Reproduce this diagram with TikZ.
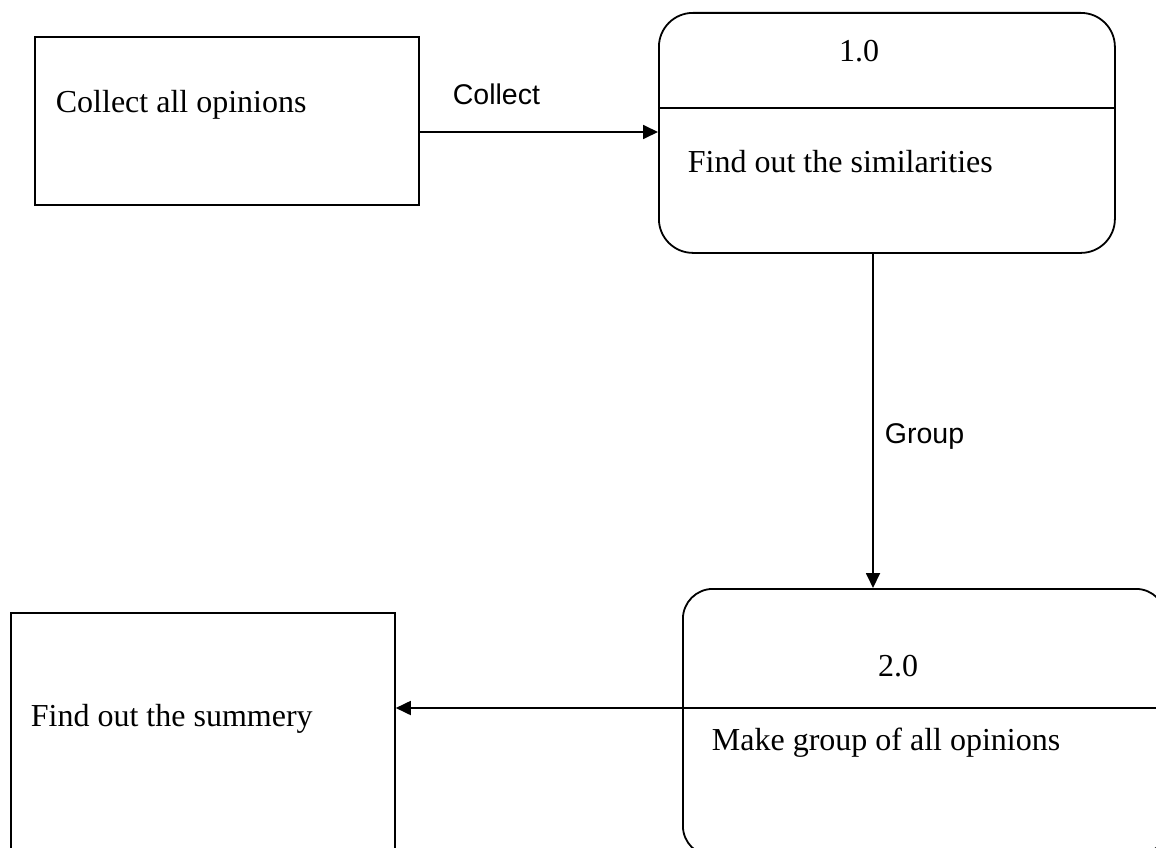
\documentclass[tikz,border=0pt]{standalone}
\usepackage{fontspec}
\setmainfont{Liberation Serif}
\newfontfamily\labelfont{Liberation Sans}
\usetikzlibrary{arrows.meta}
\begin{document}
\begin{tikzpicture}[x=1pt,y=-1pt,
  line width=1.8pt,
  entity/.style={draw, rectangle, anchor=north west, inner sep=0pt},
  process/.style={draw, rectangle, rounded corners=#1, anchor=north west, inner sep=0pt},
  boxtext/.style={anchor=base west, inner sep=0pt, font=\fontsize{32}{38}\selectfont},
  idtext/.style={anchor=base, inner sep=0pt, font=\fontsize{32}{38}\selectfont},
  flowlabel/.style={anchor=base west, inner sep=0pt, font=\labelfont\fontsize{28.5}{34}\selectfont},
  flow/.style={-{Triangle[length=15pt,width=14pt]}}]
\path[use as bounding box, clip] (0,0) rectangle (1156,848);

% external entities
\node[entity, minimum width=384pt, minimum height=168pt] (src) at (34,36) {};
\node[entity, minimum width=384pt, minimum height=250pt] (sum) at (10,612) {};

% processes
\node[process=34pt, minimum width=456pt, minimum height=240pt] (p1) at (658,12) {};
\node[process=30pt, minimum width=483pt, minimum height=267pt] (p2) at (682,588) {};

% dividers and flow rows
\coordinate (d1) at (0,108);
\coordinate (r1) at (0,132);
\coordinate (r2) at (0,708);
\draw (p1.west |- d1) -- (p1.east |- d1);

% texts
\node[boxtext] (tsrc) at (55,113) {Collect all opinions};
\node[idtext] (id1) at (859,62) {1.0};
\node[boxtext] (tp1) at (687,172) {Find out the similarities};
\node[idtext] (id2) at (898,676) {2.0};
\node[boxtext] (tp2) at (711,750) {Make group of all opinions};
\node[boxtext] (tsum) at (30,726) {Find out the summery};

% data flows
\draw[flow] (src.east |- r1) -- (p1.west |- r1);
\node[flowlabel] (lcollect) at (452,105) {Collect};
\coordinate (v1) at (873,0);
\draw[flow] (p1.south -| v1) -- (p2.north -| v1);
\node[flowlabel] (lgroup) at (884,443) {Group};
\draw[flow] (p2.east |- r2) -- (sum.east |- r2);
\end{tikzpicture}
\end{document}
